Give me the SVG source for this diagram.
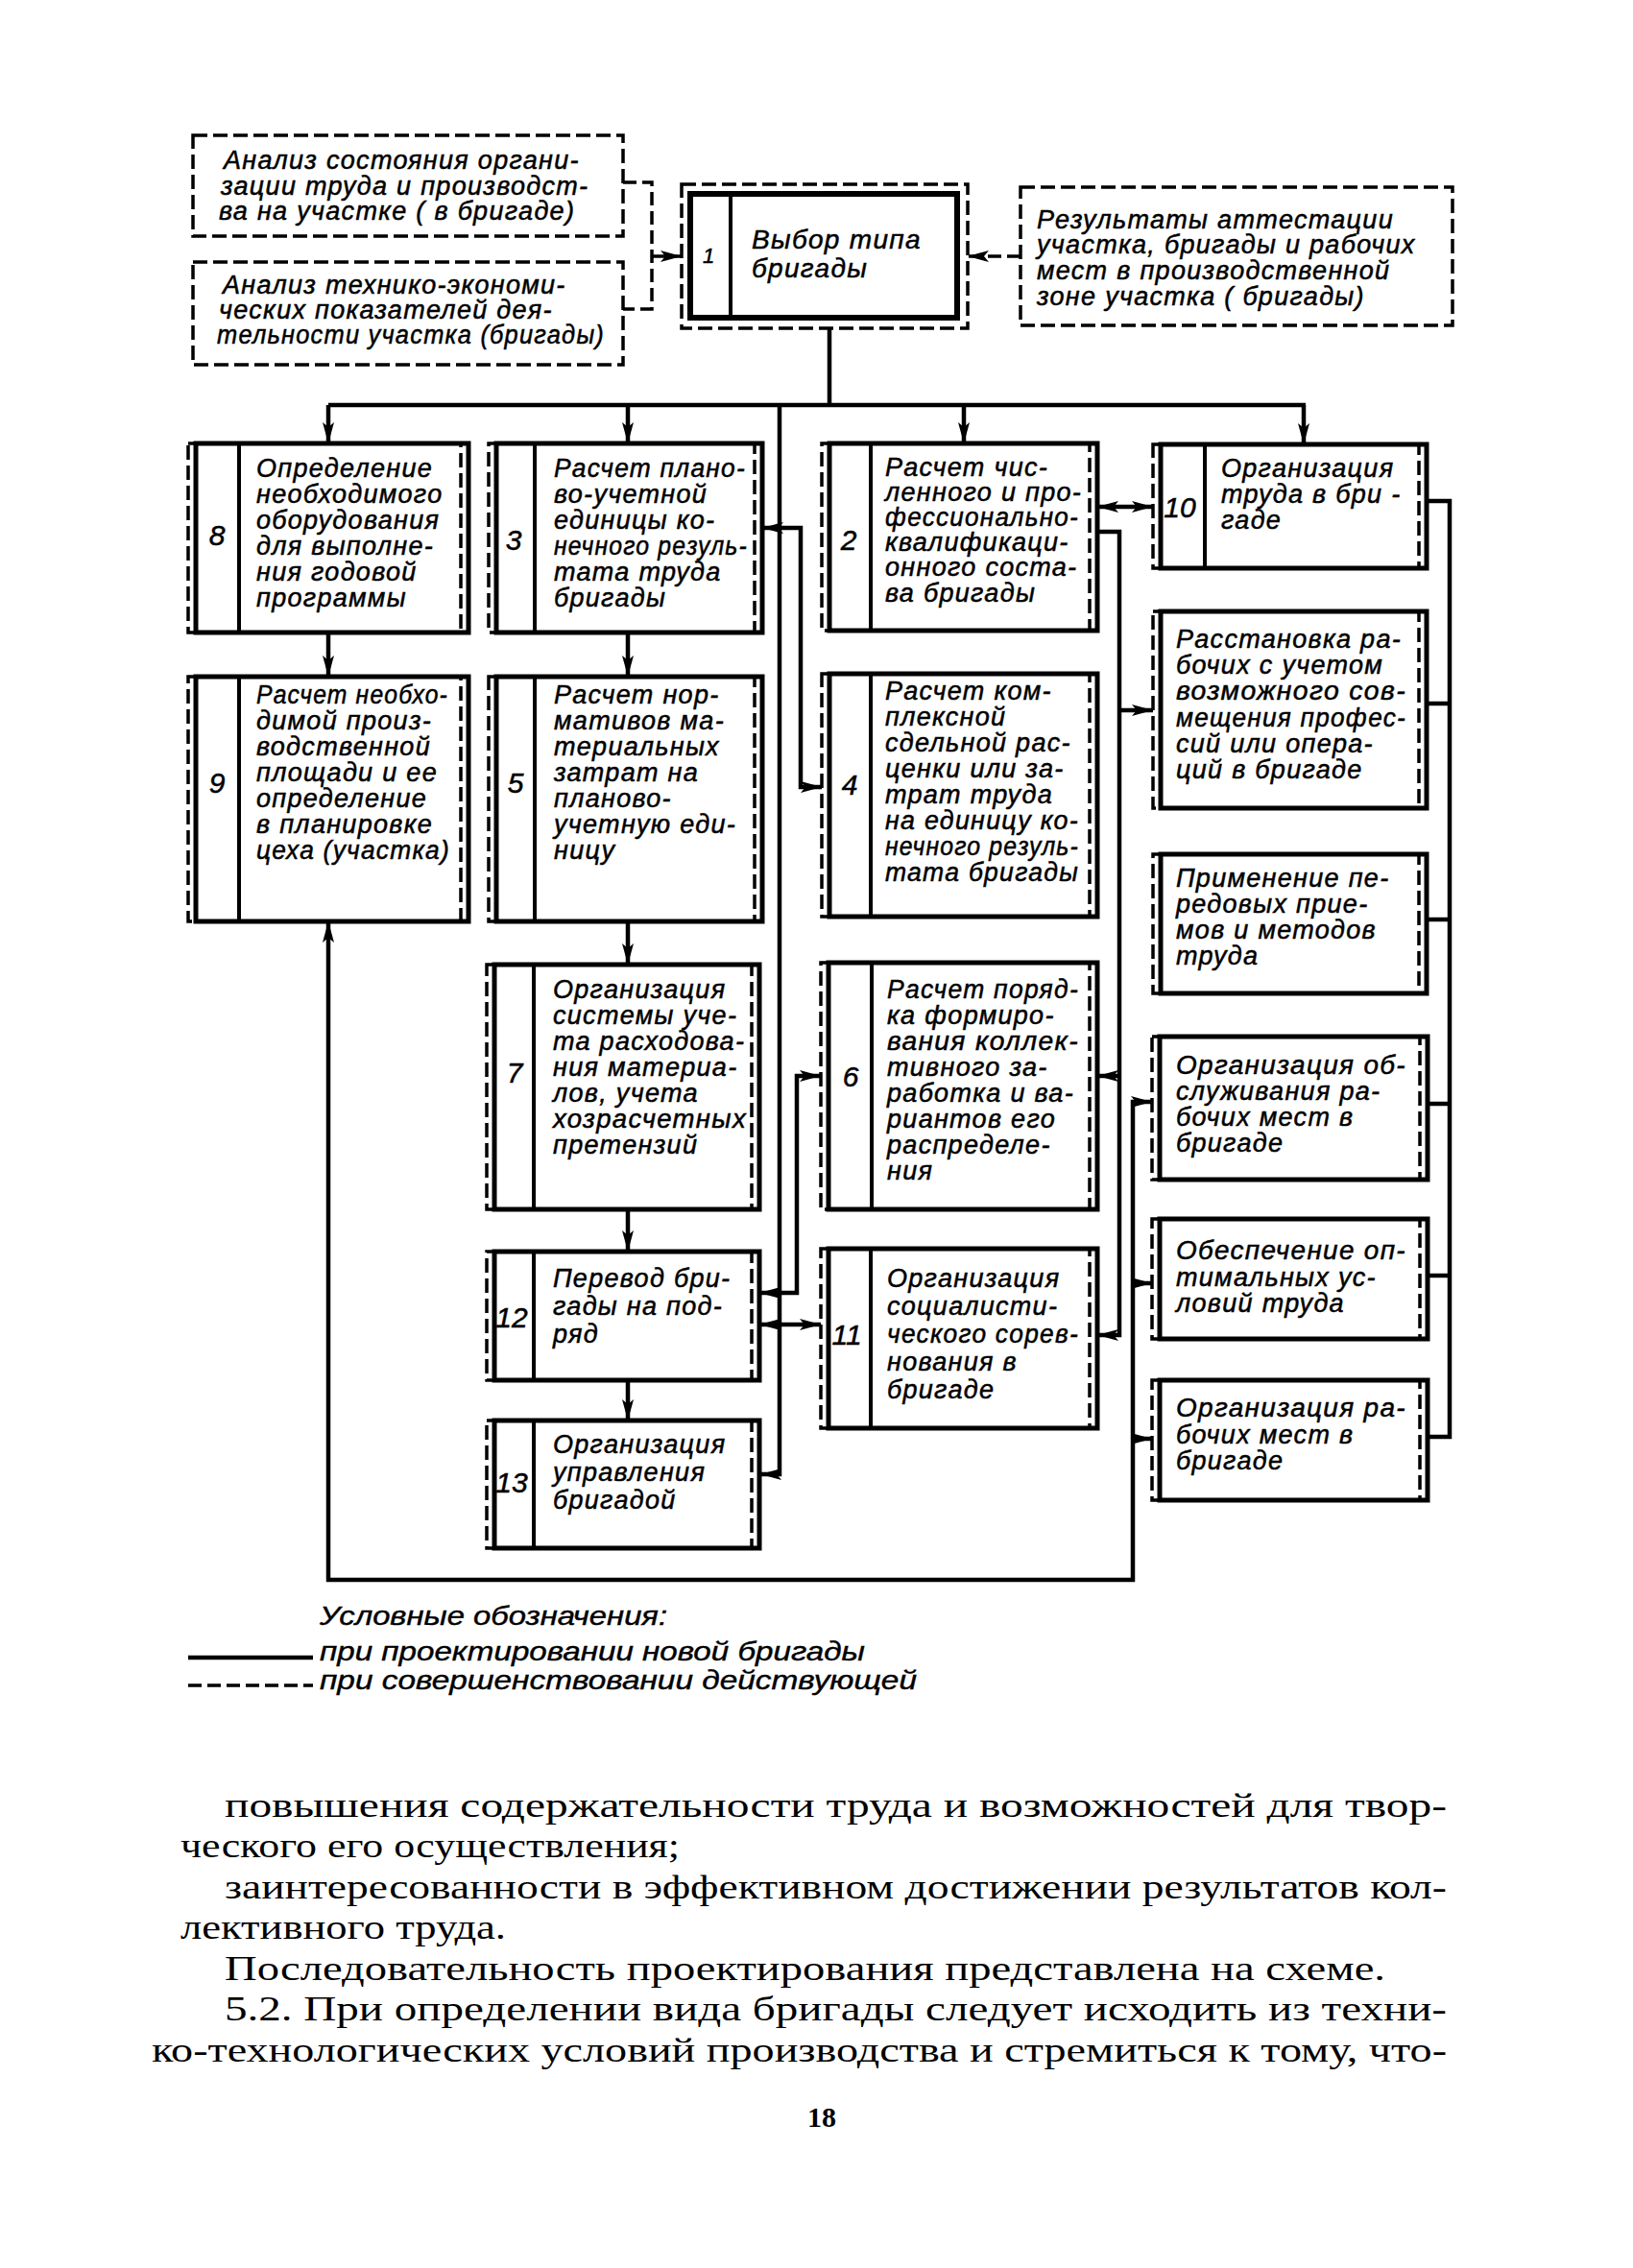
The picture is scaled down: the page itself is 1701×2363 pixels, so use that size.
<svg xmlns="http://www.w3.org/2000/svg" width="1701" height="2363" viewBox="0 0 1701 2363">
<style>
.sb{fill:none;stroke:#000;stroke-width:5}
.db{fill:none;stroke:#000;stroke-width:3.5;stroke-dasharray:15 6}
.dv{stroke:#000;stroke-width:4}
.c{fill:none;stroke:#000;stroke-width:4.5}
.dc{fill:none;stroke:#000;stroke-width:3.5;stroke-dasharray:14 6}
.t{font-family:"Liberation Sans",Arial,sans-serif;font-style:italic;font-size:27px;letter-spacing:1.3px;fill:#000;stroke:#000;stroke-width:0.5}
.n{font-family:"Liberation Sans",Arial,sans-serif;font-style:italic;font-size:30px;fill:#000;stroke:#000;stroke-width:0.5;text-anchor:middle}
.lg{font-family:"Liberation Sans",Arial,sans-serif;font-style:italic;font-size:27px;fill:#000;stroke:#000;stroke-width:0.4}
.b{font-family:"Liberation Serif","Times New Roman",serif;font-size:36px;fill:#000}
.pn{font-family:"Liberation Serif","Times New Roman",serif;font-size:30px;font-weight:bold;fill:#000;text-anchor:middle}
</style>
<defs>
<marker id="ah" viewBox="0 0 22 12" refX="22" refY="6" markerWidth="22" markerHeight="12" markerUnits="userSpaceOnUse" orient="auto-start-reverse">
<path d="M0,0 L22,6 L0,12 L5,6 z" fill="#000"/>
</marker>
</defs>
<rect width="1701" height="2363" fill="#fff"/>

<g id="connectors">
<path class="dc" d="M649 190 H679 V322 H649"/>
<path class="dc" d="M679 267 H710" marker-end="url(#ah)"/>
<path class="dc" d="M1063 267 H1008" marker-end="url(#ah)"/>
<path class="c" d="M864 342 V422"/>
<path class="c" d="M342 422 H1360"/>
<path class="c" d="M342 422 V462" marker-end="url(#ah)"/>
<path class="c" d="M654 422 V462" marker-end="url(#ah)"/>
<path class="c" d="M1004 422 V462" marker-end="url(#ah)"/>
<path class="c" d="M1358 422 V463" marker-end="url(#ah)"/>
<path class="c" d="M812 422 V1536 H792" marker-end="url(#ah)"/>
<path class="c" d="M794 550 H834 V820 H856" marker-start="url(#ah)" marker-end="url(#ah)"/>
<path class="c" d="M342 659 V705" marker-end="url(#ah)"/>
<path class="c" d="M654 659 V705" marker-end="url(#ah)"/>
<path class="c" d="M654 960 V1005" marker-end="url(#ah)"/>
<path class="c" d="M654 1260 V1304" marker-end="url(#ah)"/>
<path class="c" d="M654 1438 V1480" marker-end="url(#ah)"/>
<path class="c" d="M1143 528 H1201" marker-start="url(#ah)" marker-end="url(#ah)"/>
<path class="c" d="M1143 554 H1166 V1391 H1143" marker-end="url(#ah)"/>
<path class="c" d="M1166 740 H1201" marker-end="url(#ah)"/>
<path class="c" d="M1166 1121 H1143" marker-end="url(#ah)"/>
<path class="c" d="M791 1347 H830 V1121 H855" marker-start="url(#ah)" marker-end="url(#ah)"/>
<path class="c" d="M791 1380 H855" marker-start="url(#ah)" marker-end="url(#ah)"/>
<path class="c" d="M1200 1148 H1180 V1646 H342 V960" marker-start="url(#ah)" marker-end="url(#ah)"/>
<path class="c" d="M1180 1337 H1200" marker-end="url(#ah)"/>
<path class="c" d="M1180 1499 H1200" marker-end="url(#ah)"/>
<path class="c" d="M1486 522 H1510 V1497 H1487"/>
<path class="c" d="M1486 733 H1510"/>
<path class="c" d="M1486 958 H1510"/>
<path class="c" d="M1487 1150 H1510"/>
<path class="c" d="M1487 1329 H1510"/>
</g>

<g id="a1">
<rect class="db" x="201" y="141" width="448" height="105"/>
<text class="t"><tspan x="233" y="176">Анализ состояния органи-</tspan><tspan x="230" y="203">зации труда и производст-</tspan><tspan x="228" y="229">ва на участке ( в бригаде)</tspan></text>
</g>
<g id="a2">
<rect class="db" x="201" y="273" width="448" height="107"/>
<text class="t"><tspan x="232" y="306">Анализ технико-экономи-</tspan><tspan x="228" y="332">ческих показателей дея-</tspan><tspan x="226" y="358" textLength="404" lengthAdjust="spacingAndGlyphs">тельности участка (бригады)</tspan></text>
</g>
<g id="r1">
<rect class="db" x="1063" y="195" width="450" height="144"/>
<text class="t"><tspan x="1080" y="238">Результаты аттестации</tspan><tspan x="1080" y="264">участка, бригады и рабочих</tspan><tspan x="1080" y="291">мест в производственной</tspan><tspan x="1080" y="318">зоне участка ( бригады)</tspan></text>
</g>
<g id="n1">
<rect class="db" x="710" y="192" width="298" height="150"/>
<rect class="sb" x="719" y="202" width="278" height="129" style="stroke-width:6"/>
<line class="dv" x1="761" y1="202" x2="761" y2="331"/>
<text class="n" x="738" y="274" style="font-size:22px">1</text>
<text class="t" style="font-size:28px"><tspan x="783" y="259">Выбор типа</tspan><tspan x="783" y="289">бригады</tspan></text>
</g>

<g id="n8">
<rect class="sb" x="204" y="462" width="284" height="197"/>
<rect class="db" x="196" y="462" width="284" height="197"/>
<line class="dv" x1="249" y1="462" x2="249" y2="659"/>
<text class="n" x="226" y="568">8</text>
<text class="t"><tspan x="267" y="497">Определение</tspan><tspan x="267" y="524">необходимого</tspan><tspan x="267" y="551">оборудования</tspan><tspan x="267" y="578">для выполне-</tspan><tspan x="267" y="605">ния годовой</tspan><tspan x="267" y="632">программы</tspan></text>
</g>
<g id="n3">
<rect class="sb" x="517" y="462" width="277" height="197"/>
<rect class="db" x="509" y="462" width="277" height="197"/>
<line class="dv" x1="557" y1="462" x2="557" y2="659"/>
<text class="n" x="535" y="573">3</text>
<text class="t"><tspan x="577" y="497" textLength="200" lengthAdjust="spacingAndGlyphs">Расчет плано-</tspan><tspan x="577" y="524">во-учетной</tspan><tspan x="577" y="551">единицы ко-</tspan><tspan x="577" y="578" textLength="202" lengthAdjust="spacingAndGlyphs">нечного резуль-</tspan><tspan x="577" y="605">тата труда</tspan><tspan x="577" y="632">бригады</tspan></text>
</g>
<g id="n2">
<rect class="sb" x="864" y="462" width="279" height="195"/>
<rect class="db" x="856" y="462" width="279" height="195"/>
<line class="dv" x1="907" y1="462" x2="907" y2="657"/>
<text class="n" x="884" y="573">2</text>
<text class="t"><tspan x="922" y="496">Расчет чис-</tspan><tspan x="922" y="522">ленного и про-</tspan><tspan x="922" y="548" textLength="202" lengthAdjust="spacingAndGlyphs">фессионально-</tspan><tspan x="922" y="574">квалификаци-</tspan><tspan x="922" y="600">онного соста-</tspan><tspan x="922" y="627">ва бригады</tspan></text>
</g>
<g id="n10">
<rect class="sb" x="1209" y="463" width="277" height="129"/>
<rect class="db" x="1201" y="463" width="277" height="129"/>
<line class="dv" x1="1255" y1="463" x2="1255" y2="592"/>
<text class="n" x="1229" y="539">10</text>
<text class="t"><tspan x="1272" y="497">Организация</tspan><tspan x="1272" y="524">труда в бри -</tspan><tspan x="1272" y="551">гаде</tspan></text>
</g>
<g id="n9">
<rect class="sb" x="204" y="705" width="284" height="255"/>
<rect class="db" x="196" y="705" width="284" height="255"/>
<line class="dv" x1="249" y1="705" x2="249" y2="960"/>
<text class="n" x="226" y="826">9</text>
<text class="t"><tspan x="267" y="733" textLength="200" lengthAdjust="spacingAndGlyphs">Расчет необхо-</tspan><tspan x="267" y="760">димой произ-</tspan><tspan x="267" y="787">водственной</tspan><tspan x="267" y="814">площади и ее</tspan><tspan x="267" y="841">определение</tspan><tspan x="267" y="868">в планировке</tspan><tspan x="267" y="895" textLength="202" lengthAdjust="spacingAndGlyphs">цеха (участка)</tspan></text>
</g>
<g id="n5">
<rect class="sb" x="517" y="705" width="277" height="255"/>
<rect class="db" x="509" y="705" width="277" height="255"/>
<line class="dv" x1="557" y1="705" x2="557" y2="960"/>
<text class="n" x="537" y="826">5</text>
<text class="t"><tspan x="577" y="733">Расчет нор-</tspan><tspan x="577" y="760">мативов ма-</tspan><tspan x="577" y="787">териальных</tspan><tspan x="577" y="814">затрат на</tspan><tspan x="577" y="841">планово-</tspan><tspan x="577" y="868">учетную еди-</tspan><tspan x="577" y="895">ницу</tspan></text>
</g>
<g id="n4">
<rect class="sb" x="864" y="702" width="279" height="253"/>
<rect class="db" x="856" y="702" width="279" height="253"/>
<line class="dv" x1="907" y1="702" x2="907" y2="955"/>
<text class="n" x="885" y="828">4</text>
<text class="t"><tspan x="922" y="729">Расчет ком-</tspan><tspan x="922" y="756">плексной</tspan><tspan x="922" y="783">сдельной рас-</tspan><tspan x="922" y="810">ценки или за-</tspan><tspan x="922" y="837">трат труда</tspan><tspan x="922" y="864" textLength="202" lengthAdjust="spacingAndGlyphs">на единицу ко-</tspan><tspan x="922" y="891" textLength="202" lengthAdjust="spacingAndGlyphs">нечного резуль-</tspan><tspan x="922" y="918" textLength="202" lengthAdjust="spacingAndGlyphs">тата бригады</tspan></text>
</g>
<g id="nRas">
<rect class="sb" x="1209" y="637" width="277" height="205"/>
<rect class="db" x="1201" y="637" width="277" height="205"/>
<text class="t"><tspan x="1225" y="675">Расстановка ра-</tspan><tspan x="1225" y="702">бочих с учетом</tspan><tspan x="1225" y="729" textLength="240" lengthAdjust="spacingAndGlyphs">возможного сов-</tspan><tspan x="1225" y="757" textLength="240" lengthAdjust="spacingAndGlyphs">мещения профес-</tspan><tspan x="1225" y="784">сий или опера-</tspan><tspan x="1225" y="811">ций в бригаде</tspan></text>
</g>
<g id="n7">
<rect class="sb" x="515" y="1005" width="276" height="255"/>
<rect class="db" x="507" y="1005" width="276" height="255"/>
<line class="dv" x1="556" y1="1005" x2="556" y2="1260"/>
<text class="n" x="536" y="1128">7</text>
<text class="t"><tspan x="576" y="1040">Организация</tspan><tspan x="576" y="1067">системы уче-</tspan><tspan x="576" y="1094">та расходова-</tspan><tspan x="576" y="1121">ния материа-</tspan><tspan x="576" y="1148">лов, учета</tspan><tspan x="576" y="1175" textLength="202" lengthAdjust="spacingAndGlyphs">хозрасчетных</tspan><tspan x="576" y="1202">претензий</tspan></text>
</g>
<g id="n6">
<rect class="sb" x="863" y="1003" width="280" height="257"/>
<rect class="db" x="855" y="1003" width="280" height="257"/>
<line class="dv" x1="908" y1="1003" x2="908" y2="1260"/>
<text class="n" x="886" y="1132">6</text>
<text class="t"><tspan x="924" y="1040" textLength="200" lengthAdjust="spacingAndGlyphs">Расчет поряд-</tspan><tspan x="924" y="1067">ка формиро-</tspan><tspan x="924" y="1094" textLength="200" lengthAdjust="spacingAndGlyphs">вания коллек-</tspan><tspan x="924" y="1121">тивного за-</tspan><tspan x="924" y="1148">работка и ва-</tspan><tspan x="924" y="1175">риантов его</tspan><tspan x="924" y="1202">распределе-</tspan><tspan x="924" y="1229">ния</tspan></text>
</g>
<g id="nPrim">
<rect class="sb" x="1209" y="890" width="277" height="145"/>
<rect class="db" x="1201" y="890" width="277" height="145"/>
<text class="t"><tspan x="1225" y="924">Применение пе-</tspan><tspan x="1225" y="951">редовых прие-</tspan><tspan x="1225" y="978">мов и методов</tspan><tspan x="1225" y="1005">труда</tspan></text>
</g>
<g id="nObsl">
<rect class="sb" x="1208" y="1080" width="279" height="149"/>
<rect class="db" x="1200" y="1080" width="279" height="149"/>
<text class="t"><tspan x="1225" y="1119" textLength="240" lengthAdjust="spacingAndGlyphs">Организация об-</tspan><tspan x="1225" y="1146">служивания ра-</tspan><tspan x="1225" y="1173">бочих мест в</tspan><tspan x="1225" y="1200">бригаде</tspan></text>
</g>
<g id="n12">
<rect class="sb" x="515" y="1304" width="276" height="134"/>
<rect class="db" x="507" y="1304" width="276" height="134"/>
<line class="dv" x1="556" y1="1304" x2="556" y2="1438"/>
<text class="n" x="533" y="1383">12</text>
<text class="t"><tspan x="576" y="1341">Перевод бри-</tspan><tspan x="576" y="1370">гады на под-</tspan><tspan x="576" y="1399">ряд</tspan></text>
</g>
<g id="n11">
<rect class="sb" x="863" y="1301" width="280" height="187"/>
<rect class="db" x="855" y="1301" width="280" height="187"/>
<line class="dv" x1="907" y1="1301" x2="907" y2="1488"/>
<text class="n" x="882" y="1401">11</text>
<text class="t"><tspan x="924" y="1341">Организация</tspan><tspan x="924" y="1370">социалисти-</tspan><tspan x="924" y="1399" textLength="200" lengthAdjust="spacingAndGlyphs">ческого сорев-</tspan><tspan x="924" y="1428">нования в</tspan><tspan x="924" y="1457">бригаде</tspan></text>
</g>
<g id="nObesp">
<rect class="sb" x="1208" y="1270" width="279" height="125"/>
<rect class="db" x="1200" y="1270" width="279" height="125"/>
<text class="t"><tspan x="1225" y="1312" textLength="240" lengthAdjust="spacingAndGlyphs">Обеспечение оп-</tspan><tspan x="1225" y="1340">тимальных ус-</tspan><tspan x="1225" y="1367">ловий труда</tspan></text>
</g>
<g id="n13">
<rect class="sb" x="515" y="1480" width="276" height="133"/>
<rect class="db" x="507" y="1480" width="276" height="133"/>
<line class="dv" x1="556" y1="1480" x2="556" y2="1613"/>
<text class="n" x="533" y="1555">13</text>
<text class="t"><tspan x="576" y="1514">Организация</tspan><tspan x="576" y="1543">управления</tspan><tspan x="576" y="1572">бригадой</tspan></text>
</g>
<g id="nRab">
<rect class="sb" x="1208" y="1438" width="279" height="125"/>
<rect class="db" x="1200" y="1438" width="279" height="125"/>
<text class="t"><tspan x="1225" y="1476" textLength="240" lengthAdjust="spacingAndGlyphs">Организация ра-</tspan><tspan x="1225" y="1504">бочих мест в</tspan><tspan x="1225" y="1531">бригаде</tspan></text>
</g>

<g id="legend">
<text class="lg" x="333" y="1693" textLength="362" lengthAdjust="spacingAndGlyphs">Условные обозначения:</text>
<line class="c" x1="196" y1="1727" x2="326" y2="1727"/>
<text class="lg" x="333" y="1730" textLength="568" lengthAdjust="spacingAndGlyphs">при проектировании новой бригады</text>
<line class="dc" x1="196" y1="1756" x2="326" y2="1756"/>
<text class="lg" x="333" y="1760" textLength="622" lengthAdjust="spacingAndGlyphs">при совершенствовании действующей</text>
</g>

<g id="bodytext">
<text class="b" x="234" y="1893" textLength="1273" lengthAdjust="spacingAndGlyphs">повышения содержательности труда и возможностей для твор-</text>
<text class="b" x="188" y="1935" textLength="520" lengthAdjust="spacingAndGlyphs">ческого его осуществления;</text>
<text class="b" x="234" y="1978" textLength="1273" lengthAdjust="spacingAndGlyphs">заинтересованности в эффективном достижении результатов кол-</text>
<text class="b" x="188" y="2020" textLength="339" lengthAdjust="spacingAndGlyphs">лективного труда.</text>
<text class="b" x="234" y="2063" textLength="1209" lengthAdjust="spacingAndGlyphs">Последовательность проектирования представлена на схеме.</text>
<text class="b" x="234" y="2105" textLength="1273" lengthAdjust="spacingAndGlyphs">5.2. При определении вида бригады следует исходить из техни-</text>
<text class="b" x="158" y="2148" textLength="1349" lengthAdjust="spacingAndGlyphs">ко-технологических условий производства и стремиться к тому, что-</text>
<text class="pn" x="856" y="2216">18</text>
</g>
</svg>
